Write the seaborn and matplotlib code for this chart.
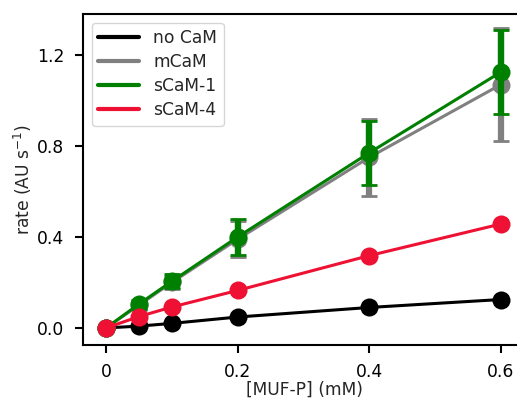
import numpy as np
import pandas as pd
import matplotlib
matplotlib.use("Agg")
import matplotlib.pyplot as plt
import seaborn as sns
from matplotlib.lines import Line2D

# ---- data ----
conc = [0.0, 0.05, 0.1, 0.2, 0.4, 0.6]
no_cam = [0.0, 0.008, 0.02, 0.048, 0.09, 0.125]
mcam = [0.0, 0.10, 0.20, 0.39, 0.75, 1.07]
mcam_err = [0.0, 0.02, 0.03, 0.08, 0.17, 0.25]
scam1 = [0.0, 0.105, 0.205, 0.40, 0.77, 1.125]
scam1_err = [0.0, 0.02, 0.03, 0.08, 0.14, 0.185]
scam4 = [0.0, 0.05, 0.092, 0.165, 0.318, 0.457]
labels = ["no CaM", "mCaM", "sCaM-1", "sCaM-4"]
colors = ["black", "#808080", "#008000", "#EE1133"]
xticks = [0, 0.2, 0.4, 0.6]
xticklabels = ["0", "0.2", "0.4", "0.6"]
yticks = [0.0, 0.4, 0.8, 1.2]

series = [no_cam, mcam, scam1, scam4]
errs = [None, mcam_err, scam1_err, None]

sns.set_theme(style="ticks")
plt.rcParams["font.family"] = ["DejaVu Sans"]
plt.rcParams["font.size"] = 12

fig = plt.figure(figsize=(5.17, 3.99), dpi=100)
ax = fig.add_axes([83 / 517, 1 - 345 / 399, (526 - 83) / 517, (345 - 14) / 399])

for i, (lab, col, ys, er) in enumerate(zip(labels, colors, series, errs)):
    df = pd.DataFrame({"x": conc, "y": ys})
    if er is not None:
        ax.errorbar(conc, ys, yerr=er, fmt="none", ecolor=col, elinewidth=4.5,
                    capsize=6, capthick=2, zorder=2 + i)
    sns.lineplot(data=df, x="x", y="y", ax=ax, color=col, lw=2.2, marker="o",
                 markersize=13, markeredgewidth=0, label=lab, zorder=2.5 + i,
                 legend=False)

handles = [Line2D([], [], color=c, lw=3) for c in colors]
ax.legend(handles, labels, loc="upper left", prop={"size": 12.3, "family": "DejaVu Sans"},
          handlelength=2.4, labelspacing=0.35, frameon=True, borderaxespad=0.5)

ax.set_xlim(-0.035, 0.638)
ax.set_ylim(-0.075, 1.38)
ax.set_xticks(xticks)
ax.set_xticklabels(xticklabels)
ax.set_yticks(yticks)
ax.set_yticklabels([f"{v:.1f}" for v in yticks])
ax.tick_params(labelsize=12.3, length=6, width=1.5, colors="black")
ax.tick_params(axis="x", pad=7)
ax.tick_params(axis="y", pad=7.5)
for s in ax.spines.values():
    s.set_linewidth(1.5)
    s.set_color("black")
ax.set_xlabel("[MUF-P] (mM)", fontsize=12.3, labelpad=0)
ax.set_ylabel("rate (AU s$^{-1}$)", fontsize=12.3, labelpad=2)

fig.savefig("out.png", dpi=100)
